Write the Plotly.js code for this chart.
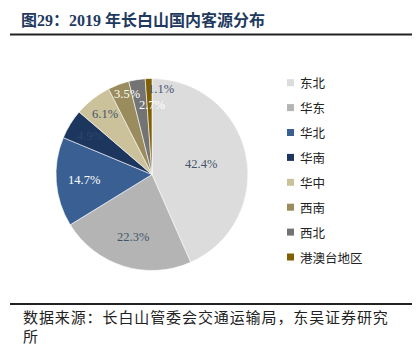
<!DOCTYPE html>
<html>
<head>
<meta charset="utf-8">
<script src="https://cdn.plot.ly/plotly-3.0.1.min.js"></script>
<style>html,body{margin:0;padding:0;background:#fff;}#chart{width:418px;height:352px;}</style>
</head>
<body>
<div id="chart"></div>
<script>
// ---- data ----
const categories = ["东北", "华东", "华北", "华南", "华中", "西南", "西北", "港澳台地区"];
const values = [42.4, 22.3, 14.7, 4.9, 6.1, 3.5, 2.7, 1.1];
const labelsText = ["42.4%", "22.3%", "14.7%", "4.9%", "6.1%", "3.5%", "2.7%", "1.1%"];
const titleText = "图29：2019 年长白山国内客源分布";
const sourceLines = ["数据来源：长白山管委会交通运输局，东吴证券研究", "所"];

// ---- style ----
const colors = ["#DCDCDC", "#B4B4B4", "#3A5F93", "#1C365E", "#CBC29B", "#9A8C5C", "#737373", "#7F5F00"];
const textColors = ["#44546A", "#44546A", "#FFFFFF", "#2E4468", "#44546A", "#FFFFFF", "#FFFFFF", "#44546A"];
const labelRadiusFrac = [0.52, 0.68, 0.71, 0.76, 0.8, 0.88, 0.72, 0.9];
const labelAngleShift = [0, 0, 0, 0, 0, 3, 9, 8];
const W = 418, H = 352;
const cx = 152, cy = 174.5, R = 96;
const px = x => x / W;
const py = y => 1 - y / H;

const total = values.reduce((a, b) => a + b, 0);
const annotations = [];
const shapes = [];

// slice labels
let cum = 0;
values.forEach((v, i) => {
  const mid = (cum + v / 2) / total * 360 + labelAngleShift[i];
  cum += v;
  const th = mid * Math.PI / 180;
  const r = R * labelRadiusFrac[i];
  annotations.push({
    xref: "paper", yref: "paper", x: px(cx), y: py(cy),
    xshift: r * Math.sin(th), yshift: r * Math.cos(th),
    text: labelsText[i], showarrow: false,
    xanchor: "center", yanchor: "middle",
    font: {family: "Liberation Serif, Times New Roman, serif", size: 12.5, color: textColors[i]}
  });
});

// legend
categories.forEach((c, i) => {
  const yc = 82.7 + 24.9 * i;
  shapes.push({type: "rect", xref: "paper", yref: "paper",
    x0: px(287), x1: px(294), y0: py(yc - 3.5), y1: py(yc + 3.5),
    fillcolor: colors[i], line: {width: 0}});
  annotations.push({xref: "paper", yref: "paper", x: px(298), y: py(yc),
    text: c, showarrow: false, xanchor: "left", yanchor: "middle",
    font: {family: "Noto Sans CJK SC, sans-serif", size: 12.5, color: "#222222"}});
});

// title
annotations.push({xref: "paper", yref: "paper", x: px(19), y: py(20),
  text: "<b>" + titleText + "</b>", showarrow: false, xanchor: "left", yanchor: "middle",
  font: {family: "Liberation Serif, Noto Sans CJK SC, serif", size: 16, color: "#1F3A5F"}});
shapes.push({type: "line", xref: "paper", yref: "paper", x0: px(10), x1: px(412), y0: py(34.5), y1: py(34.5),
  line: {color: "#222222", width: 1.8}});
shapes.push({type: "line", xref: "paper", yref: "paper", x0: px(10), x1: px(412), y0: py(304), y1: py(304),
  line: {color: "#222222", width: 1.8}});

// source
const sourceStart = annotations.length;
sourceLines.forEach((s, i) => {
  annotations.push({xref: "paper", yref: "paper", x: px(21), y: py(316 + 19 * i),
    text: s, showarrow: false, xanchor: "left", yanchor: "middle",
    font: {family: "Noto Sans CJK SC, sans-serif", size: 15, color: "#222222"}});
});

const trace = {
  type: "pie",
  labels: categories,
  values: values,
  sort: false,
  direction: "clockwise",
  rotation: 0,
  textinfo: "none",
  hoverinfo: "none",
  marker: {colors: colors, line: {color: "#FFFFFF", width: 0.6}},
  domain: {x: [px(cx - R), px(cx + R)], y: [py(cy + R), py(cy - R)]},
  showlegend: false
};

const layout = {
  width: W, height: H,
  margin: {l: 0, r: 0, t: 0, b: 0},
  paper_bgcolor: "#FFFFFF",
  showlegend: false,
  annotations: annotations,
  shapes: shapes
};

Plotly.newPlot("chart", [trace], layout, {staticPlot: true, displayModeBar: false}).then(gd => {
  gd.querySelectorAll("g.annotation").forEach(g => {
    const idx = +g.getAttribute("data-index");
    if (idx >= sourceStart) {
      const t = g.querySelector("text.annotation-text");
      if (t) {
        const w0 = t.getBBox().width;
        t.style.letterSpacing = "0.9px";
        const w1 = t.getBBox().width;
        t.setAttribute("transform", "translate(" + ((w1 - w0) / 2) + ",0)");
      }
    }
  });
});
</script>
</body>
</html>
